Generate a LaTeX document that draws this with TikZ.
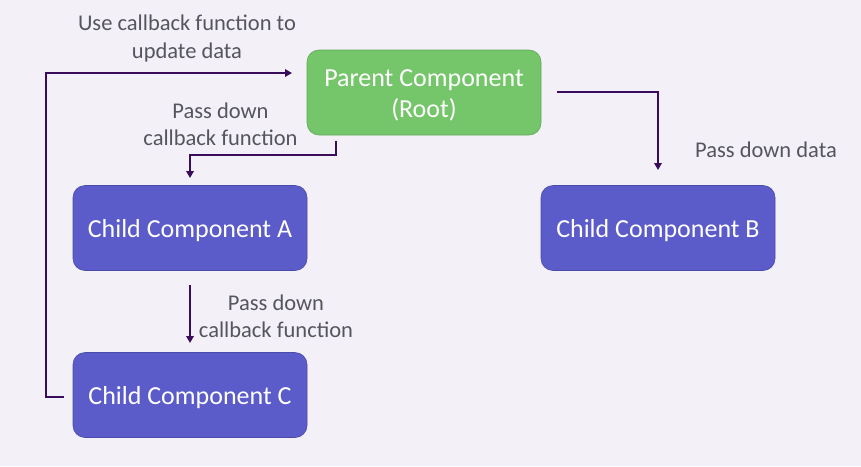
\documentclass[tikz,border=0pt]{standalone}
\usepackage{fontspec}
\setmainfont{Carlito}
\usetikzlibrary{arrows.meta}
\definecolor{bgc}{HTML}{F3F1F7}
\definecolor{greenc}{HTML}{75C66A}
\definecolor{greend}{HTML}{5FA857}
\definecolor{bluec}{HTML}{5B5BC9}
\definecolor{blued}{HTML}{4A4AA8}
\definecolor{linec}{HTML}{3A0D5C}
\definecolor{textc}{HTML}{555560}
\tikzset{
  box/.style={draw, line width=0.6pt, rounded corners=12pt, minimum width=234pt, minimum height=85pt, inner sep=0pt},
  boxtext/.style={text=white, font=\fontsize{26}{31}\selectfont, align=center, inner sep=0pt, yshift=-3pt},
  parentbox/.style={box, fill=greenc, draw=greend},
  childbox/.style={box, fill=bluec, draw=blued},
  conn/.style={draw=linec, line width=2.8pt, -{Triangle[length=7pt,width=7.5pt]}},
  lbl/.style={text=textc, font=\fontsize{22.5}{27.5}\selectfont, align=center, inner sep=0pt}
}
\begin{document}
\begin{tikzpicture}[x=1pt,y=-1pt]
\fill[bgc] (0,0) rectangle (861,466);
\useasboundingbox (0,0) rectangle (861,466);
\node[parentbox, label={[boxtext]center:Parent Component\\(Root)}] (P) at (424,92.5) {};
\node[childbox, label={[boxtext]center:Child Component A}] (A) at (190,228) {};
\node[childbox, label={[boxtext]center:Child Component B}] (B) at (658,228) {};
\node[childbox, label={[boxtext]center:Child Component C}] (C) at (190,395) {};
\coordinate (cs) at (64,397);
\coordinate (ce) at (292,73);
\coordinate (ps) at (336,141);
\coordinate (pe) at (190,178);
\coordinate (rs) at (557,92);
\coordinate (re) at (658,170);
\coordinate (as) at (190,285);
\coordinate (ae) at (190,343);
\draw[conn] (cs) -| (46,73) -- (ce);
\draw[conn] (ps) |- (190,155) -- (pe);
\draw[conn] (rs) -| (re);
\draw[conn] (as) -- (ae);
\node[lbl] (l1) at (187,38.5) {Use callback function to\\update data};
\node[lbl] (l2) at (220.5,124.5) {Pass down\\callback function};
\node[lbl, anchor=west] (l3) at (695,150) {Pass down data};
\node[lbl] (l4) at (276,316.5) {Pass down\\callback function};
\end{tikzpicture}
\end{document}
